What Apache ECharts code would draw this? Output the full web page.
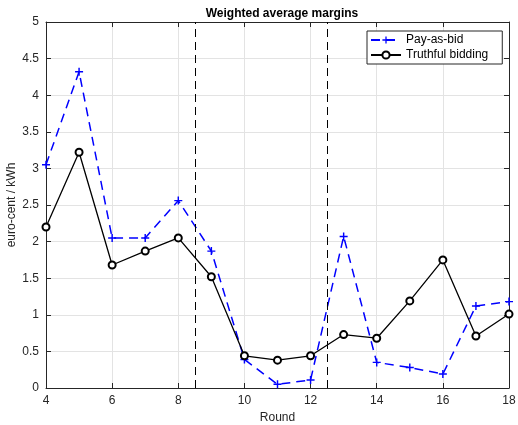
<!DOCTYPE html>
<html><head><meta charset="utf-8">
<script src="https://cdn.jsdelivr.net/npm/echarts@6/dist/echarts.min.js"></script>
<style>html,body{margin:0;padding:0;background:#fff}#c{width:518px;height:425px}</style>
</head><body><div id="c"></div>
<script>
const rounds = [4,5,6,7,8,9,10,11,12,13,14,15,16,17,18];
const payAsBid = [3.05,4.32,2.05,2.05,2.56,1.87,0.39,0.05,0.11,2.07,0.35,0.28,0.19,1.12,1.18];
const truthful = [2.20,3.22,1.68,1.87,2.05,1.52,0.44,0.38,0.44,0.73,0.68,1.19,1.75,0.71,1.01];
const phaseBreaks = [8.5, 12.5];
const xTicks = {min:4, max:18, interval:2};
const yTicks = {min:0, max:5, interval:0.5};

const font = 'Liberation Sans, Arial, sans-serif';
const axC = '#262626';
const plus = 'path://M4.1,0h1.8v4.1h4.1v1.8h-4.1v4.1h-1.8v-4.1h-4.1v-1.8h4.1z';
const chart = echarts.init(document.getElementById('c'), null, {renderer:'canvas'});
const baseX = {type:'value', min:xTicks.min, max:xTicks.max, interval:xTicks.interval,
  axisLine:{show:true,onZero:false,lineStyle:{color:axC,width:1}},
  axisTick:{show:true,inside:true,length:5,lineStyle:{color:axC}}};
const baseY = {type:'value', min:yTicks.min, max:yTicks.max, interval:yTicks.interval,
  axisLine:{show:true,onZero:false,lineStyle:{color:axC,width:1}},
  axisTick:{show:true,inside:true,length:5,lineStyle:{color:axC}}};
chart.setOption({
  animation:false,
  backgroundColor:'#fff',
  title:{text:'Weighted average margins', left:277, top:3, textAlign:'center',
    textStyle:{fontFamily:font,fontSize:12,fontWeight:'bold',color:'#000'}},
  grid:{left:46,right:9,top:22,bottom:37,containLabel:false,outerBoundsMode:'none'},
  legend:{orient:'vertical', left:367, top:31, padding:[3,14,3,3], itemGap:3,
    itemWidth:30, itemHeight:9, borderColor:axC, borderWidth:1, backgroundColor:'#fff',
    textStyle:{fontFamily:font,fontSize:12,color:'#000'},
    data:['Pay-as-bid','Truthful bidding']},
  graphic:[{type:'text', x:12, y:205, rotation:Math.PI/2,
    style:{text:'euro-cent / kWh', fontFamily:font, fontSize:12, fill:axC, align:'center', verticalAlign:'middle'}}],
  xAxis:[Object.assign({}, baseX, {position:'bottom', name:'Round', nameLocation:'middle', nameGap:22,
      nameTextStyle:{fontFamily:font,fontSize:12,color:axC},
      axisLabel:{fontFamily:font,fontSize:12,color:axC,margin:7},
      splitLine:{show:true,lineStyle:{color:'#e3e3e3',width:1}}}),
    Object.assign({}, baseX, {position:'top', axisLabel:{show:false}, splitLine:{show:false}})],
  yAxis:[Object.assign({}, baseY, {position:'left',
      axisLabel:{fontFamily:font,fontSize:12,color:axC,margin:7},
      splitLine:{show:true,lineStyle:{color:'#e3e3e3',width:1}}}),
    Object.assign({}, baseY, {position:'right', axisLabel:{show:false}, splitLine:{show:false}})],
  series:[
    {name:'Breaks', type:'line', data:[], silent:true,
      markLine:{silent:true, symbol:'none', label:{show:false},
        lineStyle:{color:'#000',type:[8,5],width:1},
        data:phaseBreaks.map(v=>({xAxis:v}))}},
    {name:'Pay-as-bid', type:'line', data:rounds.map((r,i)=>[r,payAsBid[i]]),
      symbol:plus, symbolSize:8, showAllSymbol:true,
      lineStyle:{color:'#0000ff',width:1.5,type:[9,6]},
      itemStyle:{color:'#0000ff'}},
    {name:'Truthful bidding', type:'line', data:rounds.map((r,i)=>[r,truthful[i]]),
      symbol:'emptyCircle', symbolSize:7, showAllSymbol:true,
      lineStyle:{color:'#000',width:1.3},
      itemStyle:{color:'#000',borderColor:'#000',borderWidth:1.2}}
  ]
});
</script></body></html>
